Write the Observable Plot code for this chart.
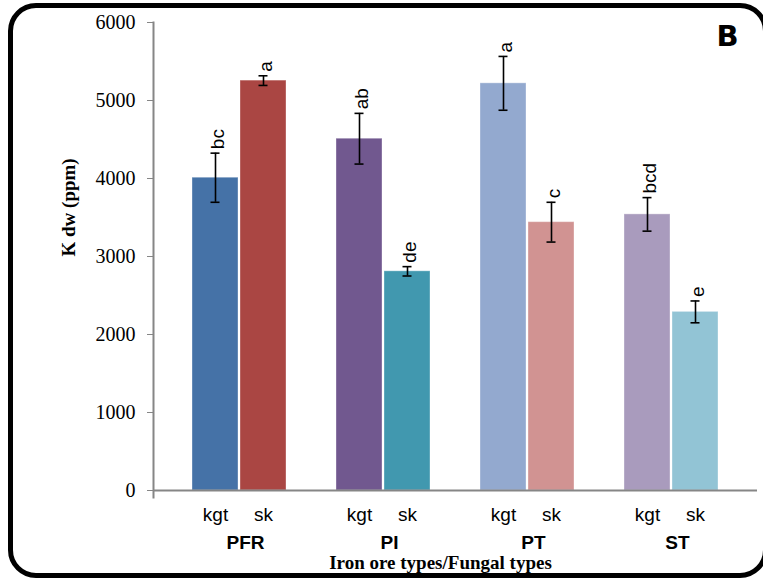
<!DOCTYPE html>
<html>
<head>
<meta charset="utf-8">
<script src="https://cdn.jsdelivr.net/npm/d3@7"></script>
<script src="https://cdn.jsdelivr.net/npm/@observablehq/plot@0.6"></script>
<style>
  html, body { margin: 0; padding: 0; background: white; }
  #wrap { position: relative; width: 763px; height: 580px; overflow: hidden; background: white; }
  #border { position: absolute; left: 8px; top: 3px; width: 760px; height: 575px; box-sizing: border-box;
            border: 5px solid black; border-radius: 28px; pointer-events: none; }
  #chart { position: absolute; left: 0; top: 0; }
</style>
</head>
<body>
<div id="wrap"><div id="chart"></div><div id="border"></div></div>
<script>
const groups = ["PFR", "PI", "PT", "ST"];
const fungi = ["kgt", "sk"];
const kgtValues = [4010, 4510, 5220, 3540];
const skValues = [5255, 2810, 3440, 2290];
const kgtErrors = [315, 325, 345, 215];
const skErrors = [62, 60, 255, 140];
const kgtLetters = ["bc", "ab", "a", "bcd"];
const skLetters = ["a", "de", "c", "e"];
const barColors = ["#4572A7", "#AA4643", "#71588F", "#4198AF", "#93A9CF", "#D19392", "#A99BBD", "#92C4D5"];
const yTicks = [0, 1000, 2000, 3000, 4000, 5000, 6000];
const xTitle = "Iron ore types/Fungal types";
const yTitle = "K dw (ppm)";
const panelLabel = "B";

const series = {
  kgt: {values: kgtValues, errors: kgtErrors, letters: kgtLetters},
  sk: {values: skValues, errors: skErrors, letters: skLetters}
};

const rows = groups.flatMap((g, i) => fungi.map(f => ({
  group: g, fungus: f, key: g + "|" + f,
  value: series[f].values[i], err: series[f].errors[i], letter: series[f].letters[i]
})));
const keys = rows.map(d => d.key);
// band domain with spacer slots between groups
const domain = groups.flatMap((g, i) => [
  ...fungi.map(f => g + "|" + f),
  ...(i < groups.length - 1 ? ["gap" + i] : [])
]);
const groupRows = rows.filter(d => d.fungus === fungi[0]);

const chart = Plot.plot({
  width: 763,
  height: 580,
  marginLeft: 153,
  marginRight: 6,
  marginTop: 22,
  marginBottom: 90,
  style: {background: "white", fontFamily: "Liberation Sans, Arial, sans-serif", overflow: "visible"},
  x: {domain, axis: null, paddingInner: 0.04, paddingOuter: 0.775, align: 0.5},
  y: {domain: [0, 6000], axis: null, label: null},
  color: {domain: keys, range: barColors},
  marks: [
    Plot.barY(rows, {x: "key", y: "value", fill: "key", stroke: "white", strokeOpacity: 0.35, strokeWidth: 1}),
    Plot.ruleX(rows, {x: "key", y1: d => d.value - d.err, y2: d => d.value + d.err, stroke: "black", strokeWidth: 1.6}),
    Plot.tickY(rows, {x: "key", y: d => d.value + d.err, stroke: "black", strokeWidth: 1.6, insetLeft: 18.5, insetRight: 18.5}),
    Plot.tickY(rows, {x: "key", y: d => d.value - d.err, stroke: "black", strokeWidth: 1.6, insetLeft: 18.5, insetRight: 18.5}),
    Plot.text(rows, {x: "key", y: d => d.value + d.err, text: "letter", rotate: -90, textAnchor: "start",
      dy: -4, dx: 2, fontSize: 19, fontFamily: "Liberation Sans, Arial, sans-serif", fill: "black"}),
    Plot.ruleY([0], {stroke: "#868686", strokeWidth: 2}),
    Plot.frame({anchor: "left", stroke: "#868686", strokeWidth: 2, insetBottom: -7}),
    Plot.axisY({ticks: yTicks, tickSize: 6, tickPadding: 12, fontSize: 20, fontFamily: "Liberation Serif, Times New Roman, serif",
      stroke: "#868686", fill: "black", label: null, tickFormat: d => String(d)}),
    Plot.text(rows, {x: "key", y: 0, text: "fungus", lineAnchor: "top", dy: 17, fontSize: 19,
      fontFamily: "Liberation Sans, Arial, sans-serif", fill: "black"}),
    Plot.text(groupRows, {x: "key", y: 0, text: "group", lineAnchor: "top", dy: 45, dx: 30, fontSize: 19, fontWeight: "bold",
      fontFamily: "Liberation Sans, Arial, sans-serif", fill: "black"}),
    Plot.text([xTitle], {frameAnchor: "bottom", text: d => d, lineAnchor: "top", dy: 65, dx: -15, fontSize: 19, fontWeight: "bold",
      fontFamily: "Liberation Serif, Times New Roman, serif", fill: "black"}),
    Plot.text([yTitle], {frameAnchor: "left", text: d => d, rotate: -90, dx: -85, fontSize: 19, fontWeight: "bold",
      fontFamily: "Liberation Serif, Times New Roman, serif", fill: "black"}),
    Plot.text([panelLabel], {frameAnchor: "top-right", text: d => d, textAnchor: "end", lineAnchor: "top", dx: -19, dy: 3,
      fontSize: 29, fontWeight: "bold", fontFamily: "DejaVu Sans, sans-serif", fill: "black"})
  ]
});
document.getElementById("chart").appendChild(chart);
</script>
</body>
</html>
